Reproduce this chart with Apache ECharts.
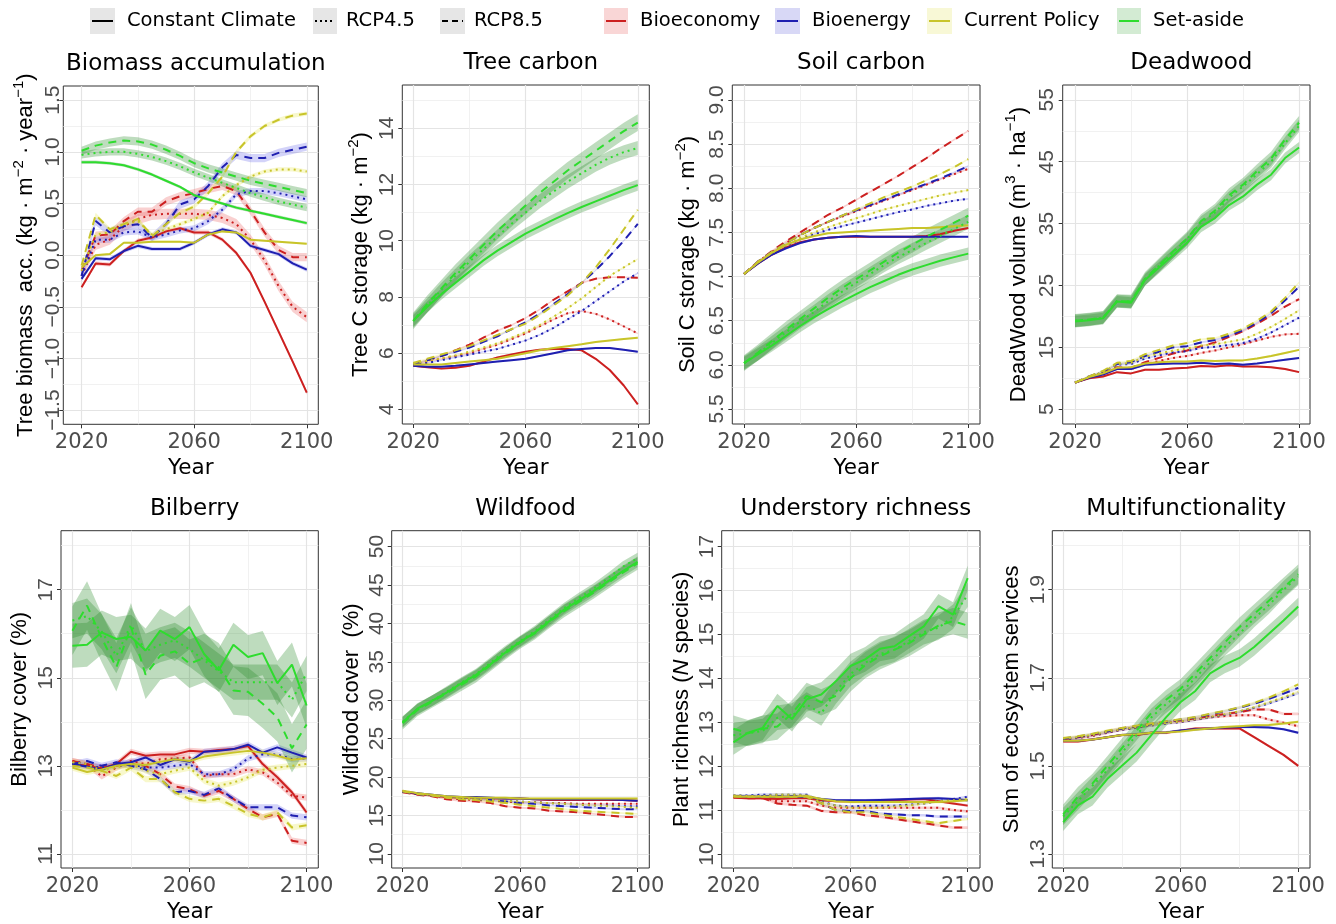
<!DOCTYPE html>
<html><head><meta charset="utf-8">
<script src="https://cdn.jsdelivr.net/npm/echarts@6/dist/echarts.min.js"></script>
<style>html,body{margin:0;padding:0;background:#fff}#c{width:1336px;height:924px}</style>
</head><body><div id="c"></div>
<script>
// ---------------- DATA ----------------
const years = [2020,2025,2030,2035,2040,2045,2050,2055,2060,2065,2070,2075,2080,2085,2090,2095,2100];
const scenarios = ['Bioeconomy','Bioenergy','Current Policy','Set-aside'];
const climates = ['Constant Climate','RCP4.5','RCP8.5'];
const xMajorTicks = [2020,2060,2100];
const xMinorTicks = [2040,2080];

// Biomass accumulation: rows = Constant Climate, RCP4.5, RCP8.5
const biomassBioeconomy = [
  [-0.31,-0.08,-0.09,0.04,0.14,0.17,0.23,0.26,0.22,0.22,0.15,0.02,-0.17,-0.45,-0.74,-1.03,-1.33],
  [-0.2,0.1,0.15,0.28,0.35,0.39,0.40,0.40,0.40,0.39,0.36,0.30,0.15,-0.05,-0.3,-0.5,-0.6],
  [-0.15,0.19,0.2,0.33,0.42,0.42,0.52,0.57,0.6,0.64,0.67,0.62,0.43,0.22,0.05,-0.02,-0.02]];
const biomassBioenergy = [
  [-0.23,-0.03,-0.04,0.04,0.09,0.06,0.06,0.06,0.12,0.2,0.25,0.22,0.09,0.05,0.01,-0.08,-0.14],
  [-0.2,0.15,0.15,0.22,0.23,0.17,0.2,0.24,0.26,0.33,0.44,0.59,0.62,0.62,0.6,0.57,0.54],
  [-0.2,0.33,0.22,0.28,0.3,0.17,0.3,0.49,0.54,0.67,0.85,0.97,0.94,0.94,0.99,1.02,1.05]];
const biomassCurrentPolicy = [
  [-0.12,0.0,0.01,0.12,0.12,0.13,0.13,0.13,0.12,0.2,0.23,0.22,0.15,0.14,0.13,0.12,0.11],
  [-0.15,0.2,0.22,0.3,0.33,0.2,0.25,0.3,0.35,0.41,0.57,0.68,0.76,0.81,0.83,0.83,0.81],
  [-0.1,0.39,0.25,0.3,0.35,0.18,0.3,0.41,0.47,0.6,0.76,1.0,1.15,1.25,1.31,1.35,1.37]];
const biomassSetAside = [
  [0.9,0.9,0.89,0.87,0.83,0.78,0.72,0.66,0.58,0.54,0.5,0.46,0.43,0.4,0.37,0.34,0.31],
  [0.97,0.99,1.0,1.0,0.98,0.95,0.91,0.86,0.8,0.75,0.7,0.65,0.6,0.56,0.52,0.49,0.46],
  [1.01,1.06,1.09,1.11,1.1,1.07,1.02,0.96,0.89,0.84,0.8,0.76,0.72,0.69,0.66,0.63,0.6]];
const biomassSE = [[0.02,0.05,0.04],[0.02,0.03,0.04],[0.01,0.02,0.02],[0.015,0.035,0.04]];
const biomassYMajor = [-1.5,-1,-0.5,0,0.5,1,1.5];
const biomassYMinor = [-1.25,-0.75,-0.25,0.25,0.75,1.25];

// Tree carbon
const treeCBioeconomy = [
  [5.55,5.5,5.45,5.48,5.55,5.7,5.85,5.95,6.05,6.12,6.15,6.15,6.1,5.8,5.4,4.85,4.18],
  [5.6,5.7,5.8,5.9,6.0,6.15,6.3,6.5,6.7,6.95,7.2,7.42,7.5,7.4,7.2,6.95,6.7],
  [5.6,5.75,5.9,6.1,6.3,6.55,6.8,7.0,7.25,7.55,7.9,8.2,8.5,8.65,8.7,8.7,8.68]];
const treeCBioenergy = [
  [5.55,5.52,5.52,5.55,5.6,5.65,5.7,5.75,5.8,5.9,6.0,6.1,6.15,6.18,6.18,6.12,6.05],
  [5.6,5.65,5.75,5.85,5.95,6.05,6.15,6.3,6.45,6.65,6.9,7.2,7.5,7.85,8.2,8.55,8.85],
  [5.6,5.75,5.9,6.05,6.2,6.4,6.6,6.85,7.1,7.4,7.75,8.1,8.5,8.95,9.45,10.0,10.6]];
const treeCCurrentPolicy = [
  [5.6,5.6,5.6,5.65,5.7,5.75,5.8,5.9,6.0,6.1,6.18,6.25,6.32,6.4,6.45,6.5,6.55],
  [5.65,5.72,5.82,5.92,6.05,6.2,6.35,6.55,6.75,7.0,7.3,7.6,7.95,8.35,8.75,9.05,9.35],
  [5.65,5.8,5.95,6.1,6.25,6.45,6.65,6.85,7.05,7.35,7.7,8.05,8.5,9.05,9.7,10.4,11.1]];
const treeCSetAside = [
  [7.15,7.65,8.1,8.5,8.9,9.3,9.65,9.95,10.25,10.5,10.75,10.98,11.2,11.4,11.6,11.8,11.98],
  [7.15,7.7,8.25,8.75,9.25,9.7,10.15,10.6,11.0,11.4,11.75,12.1,12.4,12.7,12.95,13.15,13.3],
  [7.15,7.75,8.3,8.85,9.35,9.85,10.35,10.8,11.25,11.7,12.1,12.5,12.85,13.2,13.55,13.9,14.2]];
const treeCSE = [[0.03,0.03,0.03],[0.03,0.03,0.03],[0.03,0.03,0.03],[0.2,0.25,0.3]];
const treeCYMajor = [4,6,8,10,12,14];
const treeCYMinor = [5,7,9,11,13,15];

// Soil carbon
const soilCBioeconomy = [
  [7.03,7.15,7.25,7.33,7.39,7.42,7.44,7.45,7.45,7.45,7.45,7.45,7.45,7.46,7.48,7.52,7.55],
  [7.03,7.17,7.28,7.38,7.47,7.55,7.62,7.68,7.74,7.8,7.86,7.92,7.98,8.04,8.1,8.16,8.22],
  [7.03,7.17,7.29,7.4,7.5,7.6,7.7,7.78,7.87,7.96,8.05,8.14,8.24,8.34,8.45,8.55,8.65]];
const soilCBioenergy = [
  [7.03,7.15,7.25,7.32,7.38,7.42,7.44,7.45,7.46,7.45,7.45,7.45,7.45,7.45,7.45,7.45,7.45],
  [7.03,7.16,7.27,7.35,7.42,7.48,7.53,7.57,7.61,7.65,7.69,7.73,7.76,7.8,7.83,7.86,7.88],
  [7.03,7.17,7.28,7.38,7.47,7.55,7.62,7.69,7.75,7.81,7.87,7.93,7.99,8.05,8.11,8.18,8.25]];
const soilCCurrentPolicy = [
  [7.03,7.16,7.27,7.36,7.42,7.46,7.49,7.5,7.51,7.52,7.53,7.54,7.55,7.55,7.56,7.57,7.58],
  [7.03,7.16,7.27,7.36,7.44,7.5,7.56,7.61,7.66,7.71,7.76,7.8,7.84,7.88,7.92,7.95,7.98],
  [7.03,7.17,7.28,7.38,7.47,7.55,7.62,7.69,7.76,7.83,7.9,7.96,8.02,8.09,8.16,8.24,8.33]];
const soilCSetAside = [
  [6.02,6.12,6.22,6.33,6.44,6.54,6.63,6.72,6.8,6.88,6.95,7.02,7.08,7.13,7.18,7.22,7.26],
  [6.02,6.13,6.25,6.37,6.49,6.6,6.72,6.83,6.93,7.03,7.13,7.22,7.3,7.38,7.46,7.54,7.62],
  [6.02,6.14,6.27,6.4,6.52,6.64,6.76,6.87,6.97,7.07,7.17,7.27,7.36,7.45,7.53,7.61,7.69]];
const soilCSE = [[0.01,0.01,0.01],[0.01,0.01,0.01],[0.01,0.01,0.01],[0.07,0.08,0.09]];
const soilCYMajor = [5.5,6,6.5,7,7.5,8,8.5,9];
const soilCYMinor = [5.75,6.25,6.75,7.25,7.75,8.25,8.75];

// Deadwood
const deadwoodBioeconomy = [
  [9.3,10.0,10.3,11.0,10.8,11.4,11.4,11.6,11.7,12.0,11.9,12.1,11.9,11.9,11.8,11.5,11.0],
  [9.3,10.1,10.7,11.6,11.5,12.3,12.8,13.3,13.6,14.1,14.5,15.0,15.5,16.1,16.7,17.1,17.2],
  [9.3,10.2,10.9,11.8,11.7,12.6,13.3,14.0,14.5,15.2,15.8,16.7,17.6,18.8,20.1,21.6,22.8]];
const deadwoodBioenergy = [
  [9.3,10.1,10.6,11.5,11.5,12.2,12.3,12.4,12.4,12.5,12.3,12.4,12.2,12.4,12.7,13.0,13.3],
  [9.3,10.2,11.0,12.2,12.3,13.2,13.7,14.2,14.4,14.9,15.1,15.4,15.7,16.4,17.4,18.6,19.8],
  [9.3,10.3,11.1,12.3,12.6,13.6,14.3,15.0,15.2,15.8,16.2,16.9,17.8,19.0,20.5,22.6,24.8]];
const deadwoodCurrentPolicy = [
  [9.3,10.2,10.8,11.7,11.8,12.4,12.6,12.7,12.7,12.9,12.8,12.9,12.9,13.2,13.6,14.1,14.6],
  [9.3,10.2,11.0,12.3,12.5,13.5,14.0,14.5,14.8,15.3,15.5,15.9,16.3,17.2,18.3,19.6,21.0],
  [9.3,10.3,11.2,12.5,12.8,13.9,14.6,15.3,15.7,16.3,16.5,17.2,18.0,19.3,20.8,23.0,25.5]];
const deadwoodSetAside = [
  [19.2,19.4,19.7,22.4,22.2,25.9,27.9,29.9,31.9,34.5,35.9,38.0,39.4,41.3,42.9,45.6,47.3],
  [19.3,19.5,19.8,22.5,22.4,26.0,28.2,30.4,32.5,35.2,36.8,39.2,41.0,43.0,45.0,48.0,50.8],
  [19.3,19.5,19.8,22.5,22.4,26.1,28.3,30.5,32.6,35.4,37.1,39.6,41.3,43.5,45.5,48.6,51.3]];
const deadwoodSE = [[0.15,0.15,0.15],[0.15,0.15,0.15],[0.15,0.15,0.15],[0.9,1.0,1.1]];
const deadwoodYMajor = [5,15,25,35,45,55];
const deadwoodYMinor = [10,20,30,40,50];

// Bilberry
const bilberryBioeconomy = [
  [13.04,13.0,12.94,13.04,13.32,13.23,13.26,13.26,13.34,13.32,13.36,13.38,13.45,13.04,12.74,12.4,11.94],
  [13.11,13.04,12.76,12.96,13.11,13.04,13.15,13.17,13.19,12.77,12.81,12.81,12.92,12.85,12.62,12.32,12.28],
  [13.11,13.04,12.96,13.0,13.04,13.0,12.81,12.53,12.47,12.32,12.43,12.25,12.02,11.83,11.91,11.3,11.25]];
const bilberryBioenergy = [
  [13.04,12.98,12.91,13.04,13.08,13.19,13.02,13.15,13.09,13.32,13.34,13.38,13.48,13.3,13.42,13.3,13.19],
  [13.04,13.0,12.96,13.0,13.04,12.96,12.96,13.0,13.04,12.81,12.81,12.92,13.17,13.26,13.26,13.15,13.17],
  [13.04,13.11,13.0,13.08,13.0,12.92,12.7,12.4,12.43,12.34,12.49,12.25,12.06,12.06,12.06,11.87,11.83]];
const bilberryCurrentPolicy = [
  [12.96,12.86,12.92,13.0,13.04,13.02,13.09,13.15,13.11,13.21,13.26,13.3,13.34,13.3,13.23,13.14,13.17],
  [13.08,13.04,12.89,12.96,13.04,12.89,12.81,12.89,12.96,12.66,12.55,12.62,12.74,12.91,12.96,13.0,13.04],
  [13.0,12.96,12.89,12.77,12.96,12.7,12.7,12.4,12.25,12.21,12.25,12.09,11.91,11.83,11.94,11.6,11.65]];
const bilberrySetAside = [
  [15.73,15.75,16.03,15.88,15.93,15.62,16.07,15.88,16.15,15.54,15.17,15.75,15.47,15.56,14.88,15.3,14.37],
  [16.3,16.4,16.05,15.5,16.2,15.6,15.75,15.85,15.65,15.4,15.15,14.9,14.9,14.9,14.9,14.5,15.1],
  [16.07,16.64,15.9,15.24,16.15,15.07,15.5,15.6,15.32,15.45,15.24,14.71,14.68,14.41,14.1,13.4,13.94]];
const bilberrySE = [[0.07,0.07,0.07],[0.07,0.07,0.07],[0.07,0.07,0.07],[0.5,0.4,0.55]];
const bilberryYMajor = [11,13,15,17];
const bilberryYMinor = [12,14,16,18];

// Wildfood
const wildfoodBioeconomy = [
  [18.1,17.8,17.6,17.4,17.3,17.3,17.2,17.2,17.2,17.1,17.0,17.0,17.0,17.0,17.0,17.0,16.9],
  [18.1,17.8,17.6,17.3,17.1,17.0,16.9,16.8,16.7,16.7,16.6,16.6,16.5,16.5,16.5,16.5,16.5],
  [18.0,17.7,17.5,17.1,16.9,16.8,16.6,16.2,16.0,15.9,15.6,15.5,15.4,15.2,15.0,14.8,14.8]];
const wildfoodBioenergy = [
  [18.1,17.9,17.7,17.5,17.4,17.4,17.3,17.2,17.2,17.1,17.1,17.1,17.1,17.1,17.1,17.0,16.9],
  [18.1,17.8,17.6,17.4,17.2,17.1,17.0,16.9,16.8,16.7,16.6,16.5,16.4,16.3,16.3,16.2,16.2],
  [18.1,17.8,17.6,17.4,17.3,17.2,17.0,16.8,16.6,16.5,16.3,16.2,16.1,16.0,15.9,15.8,15.8]];
const wildfoodCurrentPolicy = [
  [18.2,17.9,17.7,17.5,17.4,17.3,17.3,17.3,17.2,17.2,17.2,17.2,17.2,17.2,17.2,17.2,17.2],
  [18.2,17.9,17.6,17.4,17.2,17.1,17.0,16.9,16.8,16.7,16.6,16.5,16.4,16.3,16.2,16.1,16.0],
  [18.1,17.8,17.6,17.3,17.1,17.0,16.8,16.6,16.4,16.2,16.0,15.8,15.6,15.5,15.4,15.3,15.2]];
const wildfoodSetAside = [
  [27.1,28.9,29.9,31.0,32.2,33.3,34.7,36.2,37.6,38.8,40.3,41.8,43.0,44.2,45.5,46.8,48.0],
  [27.2,28.8,29.9,31.1,32.3,33.4,34.9,36.4,37.7,39.0,40.5,42.0,43.3,44.5,45.9,47.4,48.5],
  [27.0,28.7,29.8,30.9,32.0,33.1,34.6,36.1,37.5,38.7,40.2,41.6,42.8,44.0,45.3,46.6,47.8]];
const wildfoodSE = [[0.12,0.12,0.12],[0.12,0.12,0.12],[0.12,0.12,0.12],[0.7,0.7,0.8]];
const wildfoodYMajor = [10,15,20,25,30,35,40,45,50];
const wildfoodYMinor = [12.5,17.5,22.5,27.5,32.5,37.5,42.5,47.5];

// Understory richness
const richnessBioeconomy = [
  [11.28,11.27,11.27,11.25,11.27,11.27,11.22,11.2,11.2,11.2,11.2,11.22,11.24,11.25,11.2,11.15,11.1],
  [11.3,11.28,11.28,11.2,11.2,11.2,11.1,11.05,11.05,11.05,11.05,11.05,11.05,11.05,11.05,11.0,10.97],
  [11.3,11.27,11.27,11.15,11.12,11.1,10.98,10.95,10.95,10.88,10.85,10.8,10.75,10.7,10.65,10.6,10.6]];
const richnessBioenergy = [
  [11.32,11.3,11.3,11.3,11.3,11.3,11.25,11.22,11.22,11.22,11.23,11.24,11.25,11.26,11.27,11.25,11.22],
  [11.33,11.33,11.35,11.35,11.35,11.35,11.2,11.1,11.08,11.1,11.1,11.1,11.12,11.15,11.2,11.25,11.3],
  [11.32,11.3,11.32,11.32,11.32,11.32,11.15,11.0,10.98,10.98,10.92,10.9,10.88,10.88,10.85,10.85,10.85]];
const richnessCurrentPolicy = [
  [11.3,11.3,11.3,11.3,11.3,11.32,11.25,11.2,11.18,11.18,11.18,11.18,11.18,11.18,11.18,11.2,11.22],
  [11.33,11.32,11.32,11.35,11.35,11.33,11.18,11.1,11.05,11.05,11.05,11.08,11.1,11.15,11.2,11.22,11.25],
  [11.32,11.3,11.3,11.3,11.3,11.3,11.15,11.0,10.95,10.95,10.9,10.85,10.8,10.75,10.7,10.75,10.8]];
const richnessSetAside = [
  [12.54,12.76,12.87,13.37,13.07,13.52,13.63,13.93,14.28,14.43,14.67,14.73,14.96,15.18,15.64,15.45,16.28],
  [12.7,12.75,12.8,13.1,13.15,13.4,13.2,13.7,14.1,14.35,14.55,14.65,14.85,15.05,15.15,15.4,15.9],
  [12.85,12.75,12.85,12.9,13.2,13.6,13.45,13.6,14.0,14.3,14.5,14.65,14.8,15.0,15.2,15.3,15.2]];
const richnessSE = [[0.03,0.03,0.03],[0.03,0.03,0.03],[0.03,0.03,0.03],[0.28,0.28,0.3]];
const richnessYMajor = [10,11,12,13,14,15,16,17];
const richnessYMinor = [10.5,11.5,12.5,13.5,14.5,15.5,16.5];

// Multifunctionality
const multiBioeconomy = [
  [1.555,1.555,1.56,1.565,1.57,1.57,1.575,1.575,1.58,1.585,1.585,1.585,1.585,1.565,1.545,1.525,1.5],
  [1.56,1.563,1.568,1.575,1.582,1.587,1.592,1.597,1.6,1.605,1.61,1.613,1.615,1.615,1.605,1.598,1.59],
  [1.56,1.565,1.57,1.578,1.585,1.59,1.595,1.6,1.603,1.608,1.613,1.618,1.622,1.628,1.628,1.618,1.618]];
const multiBioenergy = [
  [1.557,1.557,1.56,1.565,1.57,1.572,1.575,1.576,1.58,1.583,1.585,1.587,1.588,1.588,1.587,1.583,1.575],
  [1.56,1.564,1.569,1.576,1.582,1.587,1.592,1.596,1.6,1.605,1.61,1.616,1.623,1.632,1.642,1.653,1.665],
  [1.562,1.566,1.572,1.578,1.585,1.59,1.595,1.6,1.605,1.61,1.617,1.624,1.632,1.641,1.652,1.664,1.677]];
const multiCurrentPolicy = [
  [1.557,1.557,1.56,1.565,1.57,1.572,1.575,1.576,1.578,1.582,1.585,1.588,1.59,1.592,1.593,1.596,1.6],
  [1.562,1.565,1.57,1.577,1.583,1.588,1.593,1.597,1.601,1.606,1.611,1.617,1.624,1.633,1.644,1.656,1.668],
  [1.563,1.567,1.573,1.58,1.586,1.591,1.596,1.601,1.606,1.611,1.618,1.625,1.633,1.643,1.655,1.669,1.685]];
const multiSetAside = [
  [1.372,1.41,1.43,1.47,1.5,1.53,1.57,1.61,1.645,1.67,1.71,1.73,1.745,1.77,1.8,1.83,1.862],
  [1.385,1.42,1.455,1.49,1.53,1.57,1.61,1.64,1.665,1.7,1.735,1.77,1.8,1.835,1.865,1.9,1.93],
  [1.39,1.43,1.46,1.5,1.54,1.58,1.62,1.65,1.675,1.71,1.745,1.78,1.815,1.845,1.875,1.905,1.935]];
const multiSE = [[0.003,0.003,0.003],[0.003,0.003,0.003],[0.003,0.003,0.003],[0.02,0.02,0.022]];
const multiYMajor = [1.3,1.5,1.7,1.9];
const multiYMinor = [1.4,1.6,1.8,2.0];

// ---------------- PANELS ----------------
const panels = [
  {title:'Biomass accumulation', lines:[biomassBioeconomy,biomassBioenergy,biomassCurrentPolicy,biomassSetAside], se:biomassSE, yMajor:biomassYMajor, yMinor:biomassYMinor,
   yName:'{n|Tree biomass  acc. (kg · m}{s|−2}{n| · year}{s|−1}{n|)}', dec:1},
  {title:'Tree carbon', lines:[treeCBioeconomy,treeCBioenergy,treeCCurrentPolicy,treeCSetAside], se:treeCSE, yMajor:treeCYMajor, yMinor:treeCYMinor,
   yName:'{n|Tree C storage (kg · m}{s|−2}{n|)}', dec:0},
  {title:'Soil carbon', lines:[soilCBioeconomy,soilCBioenergy,soilCCurrentPolicy,soilCSetAside], se:soilCSE, yMajor:soilCYMajor, yMinor:soilCYMinor,
   yName:'{n|Soil C storage (kg · m}{s|−2}{n|)}', dec:1},
  {title:'Deadwood', lines:[deadwoodBioeconomy,deadwoodBioenergy,deadwoodCurrentPolicy,deadwoodSetAside], se:deadwoodSE, yMajor:deadwoodYMajor, yMinor:deadwoodYMinor,
   yName:'{n|DeadWood volume (m}{s|3}{n| · ha}{s|−1}{n|)}', dec:0},
  {title:'Bilberry', lines:[bilberryBioeconomy,bilberryBioenergy,bilberryCurrentPolicy,bilberrySetAside], se:bilberrySE, yMajor:bilberryYMajor, yMinor:bilberryYMinor,
   yName:'{n|Bilberry cover (%)}', dec:0},
  {title:'Wildfood', lines:[wildfoodBioeconomy,wildfoodBioenergy,wildfoodCurrentPolicy,wildfoodSetAside], se:wildfoodSE, yMajor:wildfoodYMajor, yMinor:wildfoodYMinor,
   yName:'{n|Wildfood cover  (%)}', dec:0},
  {title:'Understory richness', lines:[richnessBioeconomy,richnessBioenergy,richnessCurrentPolicy,richnessSetAside], se:richnessSE, yMajor:richnessYMajor, yMinor:richnessYMinor,
   yName:'{n|Plant richness (}{i|N}{n| species)}', dec:0},
  {title:'Multifunctionality', lines:[multiBioeconomy,multiBioenergy,multiCurrentPolicy,multiSetAside], se:multiSE, yMajor:multiYMajor, yMinor:multiYMinor,
   yName:'{n|Sum of ecosystem services}', dec:1}
];

// layout of each plot panel (pixels) and axis ranges
const layout = [
  {left:63.3, top:86, width:255, height:338.3, xMin:2013.5, xMax:2104.1, yMin:-1.637, yMax:1.637, nameGap:26, labelMargin:0},
  {left:402.3, top:85, width:247, height:339, xMin:2016.1, xMax:2104.1, yMin:3.48, yMax:15.54, nameGap:30, labelMargin:5},
  {left:732.3, top:85, width:247.7, height:339, xMin:2015.8, xMax:2104.2, yMin:5.33, yMax:9.17, nameGap:33, labelMargin:5},
  {left:1062.7, top:85, width:247.3, height:339, xMin:2015.6, xMax:2103.9, yMin:2.62, yMax:57.4, nameGap:33, labelMargin:5},
  {left:61, top:530.7, width:257.3, height:338.6, xMin:2016.1, xMax:2104.0, yMin:10.68, yMax:18.34, nameGap:30, labelMargin:4},
  {left:391.7, top:530.7, width:257.6, height:338.6, xMin:2016.3, xMax:2104.0, yMin:8.15, yMax:52.07, nameGap:29, labelMargin:4},
  {left:721.7, top:530.7, width:258.3, height:338.6, xMin:2016.0, xMax:2104.2, yMin:9.68, yMax:17.36, nameGap:28.5, labelMargin:4},
  {left:1052.3, top:530.7, width:257.7, height:338.6, xMin:2016.3, xMax:2104.0, yMin:1.268, yMax:2.034, nameGap:29.5, labelMargin:4}
];

const lineColors = ['#CC2020','#1F1FB0','#C8C42A','#2EDC2E'];
const bandColors = ['rgba(235,110,110,0.32)','rgba(110,110,235,0.30)','rgba(235,235,110,0.35)','rgba(40,140,40,0.30)'];
const dashTypes = ['solid',[2,4],[8,6]];
const H = 'DejaVu Sans';
const V = 'Liberation Sans';

function ribbonRenderer(vals, se, fill) {
  return function (params, api) {
    if (params.dataIndex !== 0) return null;
    const pts = [];
    for (let k = 0; k < years.length; k++) pts.push(api.coord([years[k], vals[k] - se]));
    for (let k = years.length - 1; k >= 0; k--) pts.push(api.coord([years[k], vals[k] + se]));
    return {type:'polygon', shape:{points:pts}, style:{fill:fill, stroke:null}};
  };
}

const grids = [], xAxes = [], yAxes = [], series = [], titles = [];
panels.forEach((p, i) => {
  const L = layout[i];
  grids.push({left:L.left, top:L.top, width:L.width, height:L.height, show:true, borderColor:'#333333', borderWidth:1, backgroundColor:'#ffffff'});
  titles.push({text:p.title, left:L.left + L.width/2, top:L.top - 38, textAlign:'center',
    textStyle:{fontFamily:H, fontSize:23, fontWeight:'normal', color:'#000'}});
  const fmt = v => {
    const s = Math.abs(v).toFixed(p.dec);
    return (v < -1e-9 ? '\u2212' : '') + s;
  };
  xAxes.push({type:'value', gridIndex:i, min:L.xMin, max:L.xMax,
    axisLine:{show:false, onZero:false},
    axisTick:{show:true, length:4, lineStyle:{color:'#333'}, customValues:xMajorTicks},
    axisLabel:{customValues:xMajorTicks, formatter: v => String(Math.round(v)), color:'#4D4D4D', fontFamily:H, fontSize:21, margin:8},
    splitLine:{show:true, lineStyle:{color:'#E4E4E4', width:1.2}},
    name:'Year', nameLocation:'middle', nameGap:33,
    nameTextStyle:{fontFamily:H, fontSize:21.5, color:'#000'}});
  xAxes.push({type:'value', gridIndex:i, min:L.xMin, max:L.xMax, position:'bottom',
    axisLine:{show:false, onZero:false}, axisTick:{show:false, customValues:xMinorTicks}, axisLabel:{show:false},
    splitLine:{show:true, lineStyle:{color:'#EEEEEE', width:0.8}}});
  yAxes.push({type:'value', gridIndex:i, min:L.yMin, max:L.yMax,
    axisLine:{show:false, onZero:false},
    axisTick:{show:true, length:4, lineStyle:{color:'#333'}, customValues:p.yMajor},
    axisLabel:{customValues:p.yMajor, rotate:90, formatter:fmt, color:'#4D4D4D', fontFamily:V, fontSize:21, margin:L.labelMargin},
    splitLine:{show:true, lineStyle:{color:'#E4E4E4', width:1.2}},
    name:p.yName, nameLocation:'middle', nameRotate:90, nameGap:L.nameGap,
    nameTextStyle:{fontFamily:V, fontSize:22, color:'#000',
      rich:{n:{fontFamily:V, fontSize:22, color:'#000', lineHeight:26, verticalAlign:'bottom'},
            i:{fontFamily:V, fontSize:22, color:'#000', fontStyle:'italic', lineHeight:26, verticalAlign:'bottom'},
            s:{fontFamily:V, fontSize:15, color:'#000', lineHeight:15, verticalAlign:'top'}}}});
  yAxes.push({type:'value', gridIndex:i, min:L.yMin, max:L.yMax, position:'left',
    axisLine:{show:false, onZero:false}, axisTick:{show:false, customValues:p.yMinor}, axisLabel:{show:false},
    splitLine:{show:true, lineStyle:{color:'#EEEEEE', width:0.8}}});

  // ribbons (confidence bands) first
  p.lines.forEach((rows, s) => {
    rows.forEach((vals, c) => {
      const se = p.se[s][c];
      series.push({type:'custom', xAxisIndex:2*i, yAxisIndex:2*i, silent:true, z:2, clip:true,
        data: years.map((y, k) => [y, vals[k] - se, vals[k] + se]),
        encode:{x:0, y:[1,2]},
        renderItem: ribbonRenderer(vals, se, bandColors[s])});
    });
  });
  // lines
  p.lines.forEach((rows, s) => {
    rows.forEach((vals, c) => {
      series.push({type:'line', name: scenarios[s] + ' ' + climates[c], xAxisIndex:2*i, yAxisIndex:2*i,
        silent:true, symbol:'none', z:3,
        lineStyle:{color:lineColors[s], width:2, type:dashTypes[c]},
        data: years.map((y, k) => [y, vals[k]])});
    });
  });
});

// legend drawn as graphic keys
const legendItems = [
  {label:'Constant Climate', key:[90,25], bg:'#E6E6E6', color:'#000', dash:null, tx:127},
  {label:'RCP4.5', key:[313,24], bg:'#E6E6E6', color:'#000', dash:[2,3], tx:346},
  {label:'RCP8.5', key:[440,25], bg:'#E6E6E6', color:'#000', dash:[6,4], tx:474},
  {label:'Bioeconomy', key:[604,24], bg:'#F9D6D6', color:lineColors[0], dash:null, tx:640},
  {label:'Bioenergy', key:[775,25], bg:'#D8D8F6', color:lineColors[1], dash:null, tx:812},
  {label:'Current Policy', key:[927,25], bg:'#F8F8D6', color:lineColors[2], dash:null, tx:964},
  {label:'Set-aside', key:[1117,24], bg:'#D3EBD3', color:lineColors[3], dash:null, tx:1153}
];
const graphics = [];
legendItems.forEach(it => {
  graphics.push({type:'rect', shape:{x:it.key[0], y:8, width:it.key[1], height:26}, style:{fill:it.bg}, silent:true});
  graphics.push({type:'line', shape:{x1:it.key[0]+2, y1:21, x2:it.key[0]+it.key[1]-2, y2:21},
    style:{stroke:it.color, lineWidth:2, lineDash:it.dash}, silent:true});
  graphics.push({type:'text', x:it.tx, y:21, style:{text:it.label, font:'19.5px "DejaVu Sans"', fill:'#000', textVerticalAlign:'middle', verticalAlign:'middle'}, silent:true});
});

const chart = echarts.init(document.getElementById('c'), null, {renderer:'canvas'});
chart.setOption({
  animation:false,
  backgroundColor:'#ffffff',
  title:titles,
  grid:grids,
  xAxis:xAxes,
  yAxis:yAxes,
  series:series,
  graphic:graphics
});
</script>
</body></html>
